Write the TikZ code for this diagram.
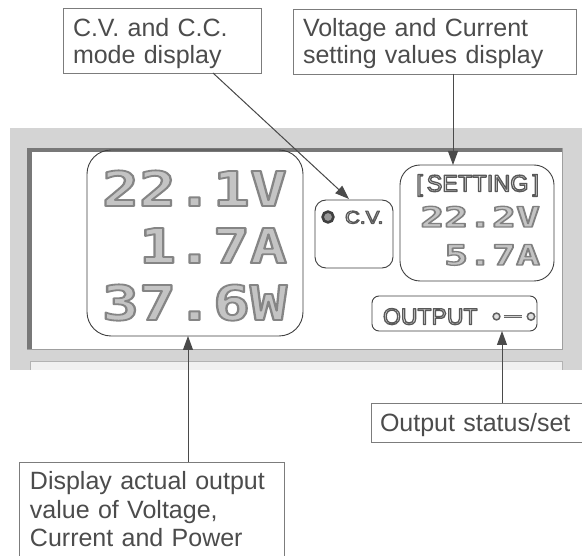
\documentclass[tikz,border=0pt]{standalone}
\usepackage{fontspec}
\setmainfont{Liberation Sans}
\newfontfamily\lcdfont{DejaVu Sans Mono}
\usepackage{graphicx}
\usetikzlibrary{arrows.meta,calc}
\definecolor{txt}{HTML}{4C4C4C}
\definecolor{bord}{HTML}{7C7C7C}
\definecolor{panel}{HTML}{D4D4D4}
\definecolor{bevel}{HTML}{787878}
\definecolor{lcdfill}{HTML}{C4C4C4}
\definecolor{smallfill}{HTML}{E4E4E4}
\definecolor{frame}{HTML}{404040}
\definecolor{conncol}{HTML}{4A4A4A}
% outlined text: #1 stroke width, #2 fill colour, #3 stroke grey level, #4 text
\newcommand\outl[4]{{\color{#2}\special{pdf:literal direct 2 Tr #1 w 1 j #3 G}#4\special{pdf:literal direct 0 Tr}}}
\newcommand\labfont{\fontsize{25}{27}\selectfont}
\newcommand\labfontb{\fontsize{25}{28.5}\selectfont}
\newcommand\bigdig{\lcdfont\bfseries\fontsize{48}{48}\selectfont}
\newcommand\setdig{\lcdfont\bfseries\fontsize{28}{28}\selectfont}
\tikzset{
  lab/.style={draw=bord, line width=0.8pt, fill=white, anchor=north west,
    align=left, inner ysep=0pt, outer sep=0pt, text=txt},
  lcdbox/.style={draw=frame, line width=0.9pt, anchor=north west,
    inner sep=0pt, outer sep=0pt},
  lcdtxt/.style={inner sep=0pt, outer sep=0pt},
  conn/.style={draw=conncol, line width=1pt,
    -{Triangle[length=14pt,width=10pt]}, fill=conncol},
}
\begin{document}
\begin{tikzpicture}[x=1pt, y=-1pt]
\useasboundingbox (0,0) rectangle (582,556);
% panel
\fill[panel] (10,128) rectangle (582,370);
\fill[white] (27,148) rectangle (562,349);
\draw[bevel, line width=4.5pt] (29.25,349) -- (29.25,150.25) -- (562,150.25);
\draw[gray!75, line width=0.8pt] (562,148) -- (562,349) -- (27,349);
\fill[gray!12] (30,361) rectangle (562,370);
\draw[gray!60, line width=0.8pt] (30,370) -- (30,361) -- (562,361) -- (562,370);
% LCD boxes
\node[lcdbox, rounded corners=24pt, minimum width=216pt, minimum height=186pt] (big) at (87,150) {};
\node[lcdbox, rounded corners=11pt, minimum width=78pt, minimum height=68pt] (mode) at (315,200) {};
\node[lcdbox, rounded corners=20pt, minimum width=154pt, minimum height=116pt] (setbox) at (400,165) {};
\node[lcdbox, rounded corners=7pt, minimum width=165pt, minimum height=35pt] (outbox) at (372,296) {};
% LCD big digits
\node[lcdtxt, anchor=base east, font=\bigdig] (v1) at (287,206) {\scalebox{1.28}[1]{\outl{1.8}{lcdfill}{0.52}{22.1V}}};
\node[lcdtxt, anchor=base east, font=\bigdig] (v2) at (287,263) {\scalebox{1.28}[1]{\outl{1.8}{lcdfill}{0.52}{1.7A}}};
\node[lcdtxt, anchor=base east, font=\bigdig] (v3) at (287,320) {\scalebox{1.28}[1]{\outl{1.8}{lcdfill}{0.52}{37.6W}}};
% setting
\node[lcdtxt, anchor=base east, font=\fontsize{23.5}{23.5}\selectfont] (s0) at (539,191.5) {\outl{1.3}{smallfill}{0.35}{[\,SETTING\,]}};
\node[lcdtxt, anchor=base east, font=\setdig] (s1) at (540,227) {\scalebox{1.42}[1]{\outl{1.3}{lcdfill}{0.5}{22.2V}}};
\node[lcdtxt, anchor=base east, font=\setdig] (s2) at (540,265) {\scalebox{1.42}[1]{\outl{1.3}{lcdfill}{0.5}{5.7A}}};
% mode
\filldraw[fill=black!40, draw=black!75, line width=2.6pt] (328,217) circle (5.4);
\node[lcdtxt, anchor=base west, font=\fontsize{18}{18}\selectfont] (cvt) at (345,223.5) {\scalebox{1.15}[1]{\outl{1.1}{smallfill}{0.35}{C.V.}}};
% output
\node[lcdtxt, anchor=base west, font=\fontsize{23}{23}\selectfont] (ot) at (383,324.5) {\outl{1.3}{smallfill}{0.35}{OUTPUT}};
\draw[black!60, line width=3pt] (503.5,316.5) -- (522,316.5);
\draw[black!18, line width=1pt] (504,316.5) -- (521.5,316.5);
\filldraw[fill=black!12, draw=black!62, line width=1.5pt] (496.5,316.5) circle (3.4);
\filldraw[fill=black!12, draw=black!62, line width=1.5pt] (531,316.5) circle (3.7);
% label boxes
\node[lab, font=\labfont, inner xsep=10pt, text width=178pt, text height=29pt, text depth=36pt] (cvlab) at (63,8)
  {\begin{tabular}[t]{@{}l@{}}C.V. and C.C.\\ mode display\end{tabular}};
\node[lab, font=\labfont, inner xsep=10pt, text width=263pt, text height=28pt, text depth=37pt] (setlab) at (293,9)
  {\begin{tabular}[t]{@{}l@{}}Voltage and Current\\ setting values display\end{tabular}};
\node[lab, font=\labfont, inner xsep=9pt, text width=222pt, text height=29pt, text depth=10pt] (statlab) at (371,403)
  {\begin{tabular}[t]{@{}l@{}}Output status/set\end{tabular}};
\node[lab, font=\labfontb, inner xsep=11pt, text width=243pt, text height=28pt, text depth=82pt] (actlab) at (19,462)
  {\begin{tabular}[t]{@{}l@{}}Display actual output\\ value of Voltage,\\ Current and Power\end{tabular}};
% connectors
\draw[conn] ($(cvlab.south west)+(150,0)$) -- ($(mode.north)+(-5,-1)$);
\coordinate (c2) at ($(setlab.south west)+(160,0)$);
\draw[conn] (c2) -- (c2 |- setbox.north);
\coordinate (c3) at ($(actlab.north west)+(169,0)$);
\draw[conn] (c3) -- (c3 |- big.south);
\coordinate (c4) at ($(statlab.north west)+(131,0)$);
\draw[conn] (c4) -- (c4 |- outbox.south);
\end{tikzpicture}
\end{document}
